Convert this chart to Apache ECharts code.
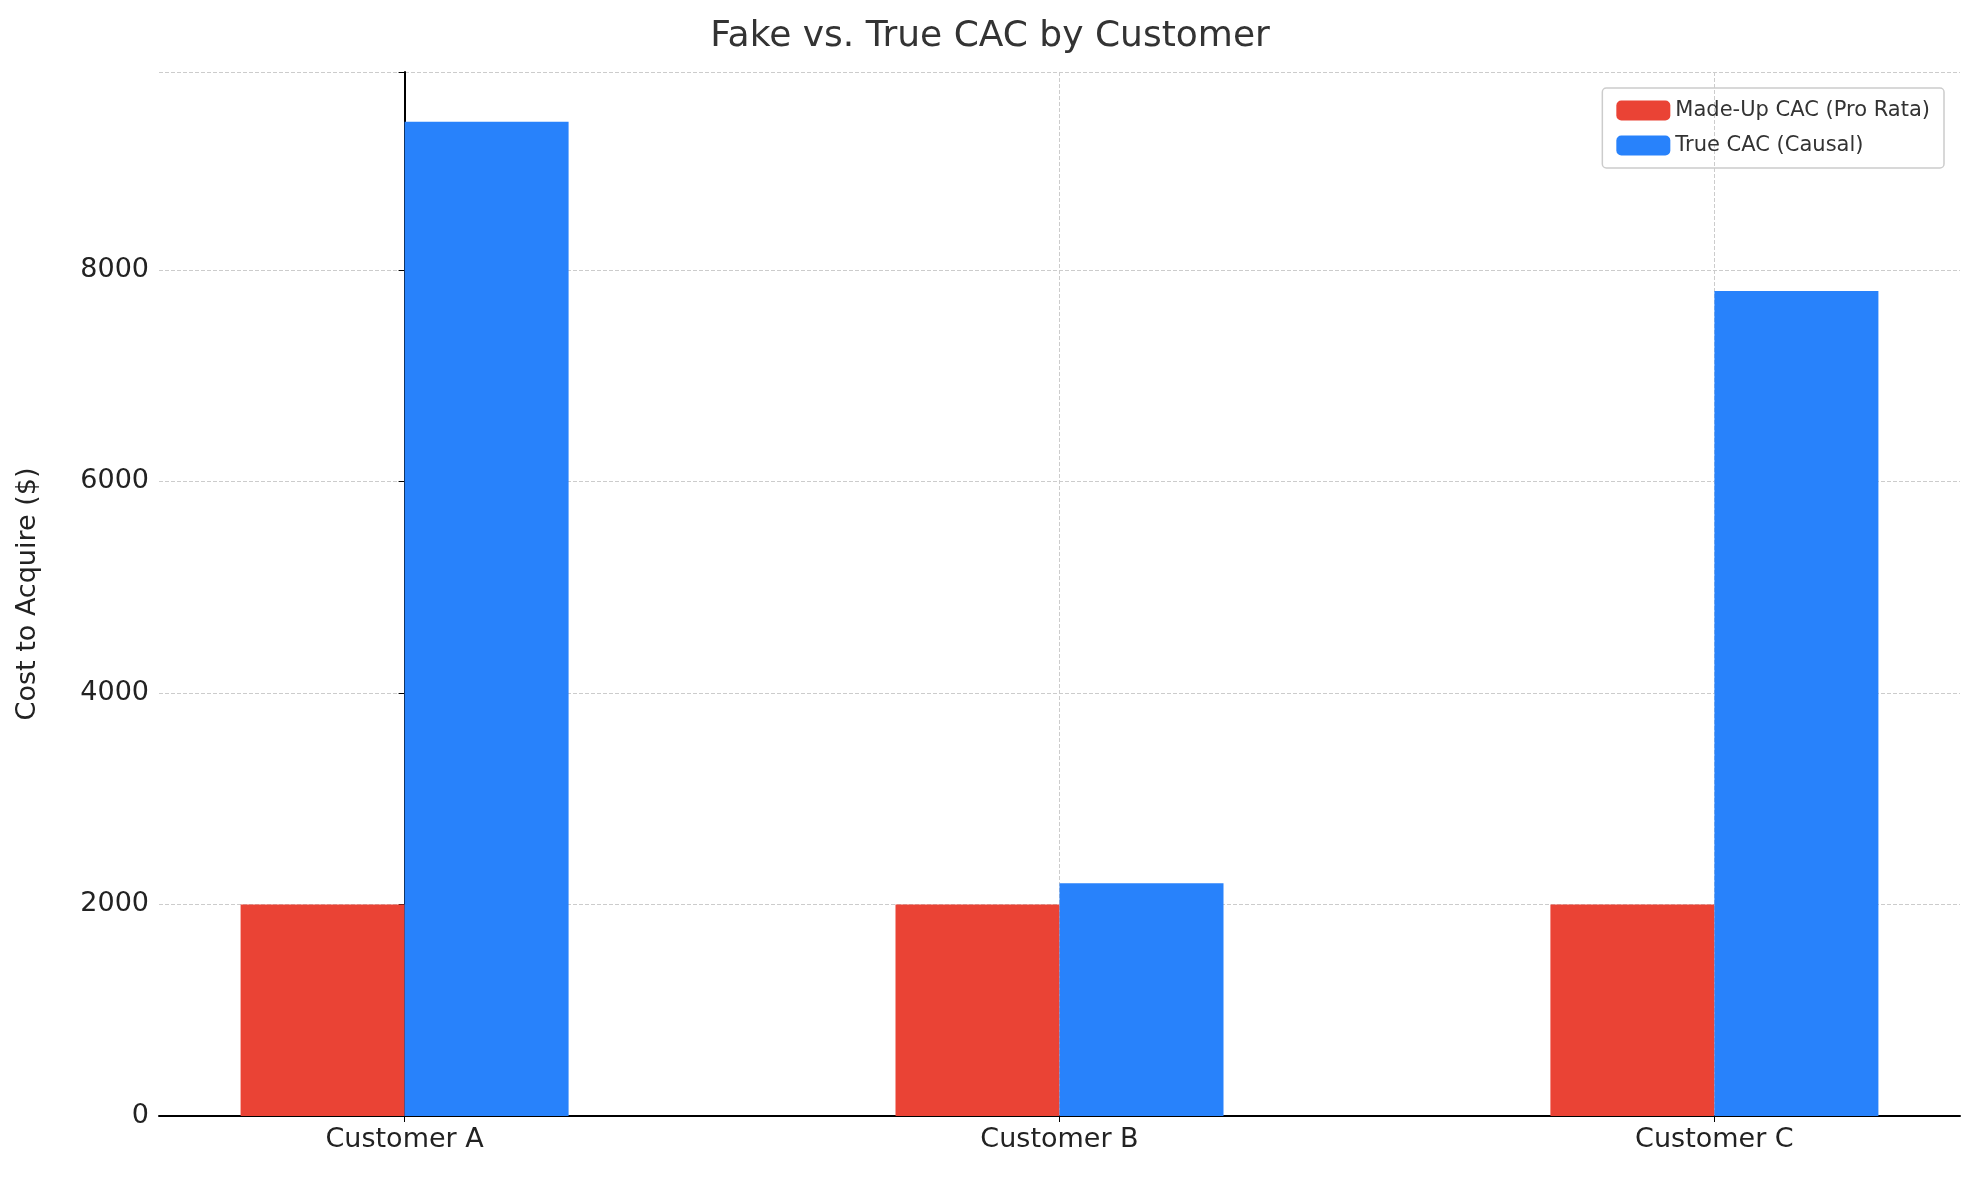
<!DOCTYPE html>
<html><head><meta charset="utf-8">
<script src="https://cdn.jsdelivr.net/npm/echarts@6/dist/echarts.min.js"></script>
<style>html,body{margin:0;padding:0;background:#fff}#c{width:1980px;height:1180px}</style>
</head><body><div id="c"></div>
<script>
const categories = ["Customer A", "Customer B", "Customer C"];
const madeUpCAC = [2000, 2000, 2000];
const trueCAC = [9400, 2200, 7800];
const seriesNames = ["Made-Up CAC (Pro Rata)", "True CAC (Causal)"];
const yTicks = [0, 2000, 4000, 6000, 8000];

const font = "DejaVu Sans";
const chart = echarts.init(document.getElementById('c'));
chart.setOption({
  animation: false,
  textStyle: {fontFamily: font},
  title: {text: "Fake vs. True CAC by Customer", left: 'center', top: 14,
    textStyle: {fontFamily: font, fontSize: 36, fontWeight: 'normal', color: '#333'}},
  legend: {data: seriesNames, orient: 'vertical', right: 36, top: 88, itemWidth: 54, itemHeight: 20,
    itemGap: 14, padding: [12, 14, 12, 14], borderColor: '#ccc', borderWidth: 1.5, borderRadius: 4,
    textStyle: {fontFamily: font, fontSize: 21, color: '#333'}},
  grid: {left: 159, right: 20, top: 72, bottom: 64, containLabel: false},
  xAxis: {type: 'value', min: -0.375, max: 2.375,
    axisLine: {show: true, lineStyle: {color: '#000', width: 2}},
    axisTick: {show: true, customValues: [0,1,2], length: 6, lineStyle: {color: '#000'}},
    axisLabel: {customValues: [0,1,2], fontSize: 27, color: '#222', margin: 10,
      formatter: v => categories[Math.round(v)]},
    splitLine: {show: true, lineStyle: {type: 'dashed', color: '#ccc'}}},
  yAxis: {type: 'value', min: 0, max: 9870, interval: 2000,
    name: "Cost to Acquire ($)", nameLocation: 'middle', nameGap: 118, nameRotate: 90,
    nameTextStyle: {fontSize: 27, color: '#222'},
    axisLine: {show: true, lineStyle: {color: '#000', width: 2}},
    axisTick: {show: true, length: 6, lineStyle: {color: '#000'}},
    axisLabel: {fontSize: 27, color: '#222', margin: 10,
      formatter: v => yTicks.includes(v) ? String(v) : ''},
    splitLine: {show: true, lineStyle: {type: 'dashed', color: '#ccc'}}},
  series: [
    {name: seriesNames[0], type: 'bar', barWidth: 164, barGap: '0%',
     itemStyle: {color: '#EA4335'}, data: madeUpCAC.map((v, i) => [i, v])},
    {name: seriesNames[1], type: 'bar', barWidth: 164, barGap: '0%',
     itemStyle: {color: '#2882FB'}, data: trueCAC.map((v, i) => [i, v])}
  ]
});
</script></body></html>
